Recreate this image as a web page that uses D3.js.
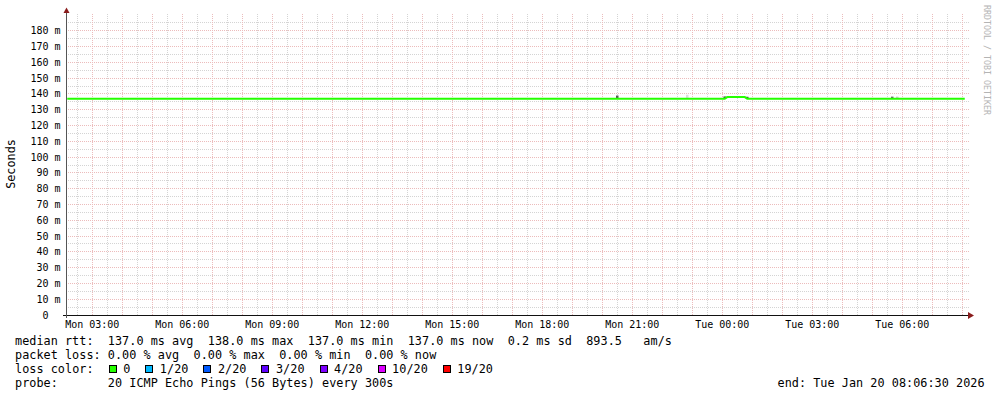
<!DOCTYPE html>
<html>
<head>
<meta charset="utf-8">
<script src="https://cdn.jsdelivr.net/npm/d3@7/dist/d3.min.js"></script>
<style>
	body { margin: 0; background: #ffffff; }
	text { font-family: "DejaVu Sans Mono", "Liberation Mono", "Noto Sans Mono", monospace; white-space: pre; }
</style>
</head>
<body>
<svg id="canvas" width="997" height="397"></svg>
<script>
// time range of the graph (UTC)
var rangeStart = "2026-01-19T02:06:30";
var rangeEnd = "2026-01-20T08:06:30";

// median rtt series (ms), 5 min steps, only the points where it changes
var medianTimes = ["2026-01-19T02:10:00", "2026-01-20T00:05:00", "2026-01-20T00:10:00",
	"2026-01-20T00:45:00", "2026-01-20T00:50:00", "2026-01-20T08:05:00"];
var medianValues = [137.0, 137.0, 138.0, 138.0, 137.0, 137.0];

// the few smoke samples that show above the median line
var smokeTimes = ["2026-01-19T20:30:00", "2026-01-19T22:50:00", "2026-01-20T00:05:00",
	"2026-01-20T00:50:00", "2026-01-20T05:40:00", "2026-01-20T05:50:00"];
var smokeTops = [139.0, 139.5, 138.4, 138.2, 138.3, 138.3];
var smokeShades = ["#555555", "#dddddd", "#444444", "#444444", "#666666", "#cccccc"];

// y axis
var yMajor = [10, 20, 30, 40, 50, 60, 70, 80, 90, 100, 110, 120, 130, 140, 150, 160, 170, 180];
var yMinor = [5, 15, 25, 35, 45, 55, 65, 75, 85, 95, 105, 115, 125, 135, 145, 155, 165, 175, 185];
var yLabels = ["0", "10 m", "20 m", "30 m", "40 m", "50 m", "60 m", "70 m", "80 m", "90 m",
	"100 m", "110 m", "120 m", "130 m", "140 m", "150 m", "160 m", "170 m", "180 m"];

// legend
var rttNames = ["avg", "max", "min", "now"];
var rttValues = [137.0, 138.0, 137.0, 137.0];
var rttSd = 0.2;
var rttAms = 893.5;
var lossValues = [0.00, 0.00, 0.00, 0.00];
var lossNames = ["0", "1/20", "2/20", "3/20", "4/20", "10/20", "19/20"];
var lossColors = ["#26ff00", "#00b8ff", "#0059ff", "#5e00ff", "#7e00ff", "#dd00ff", "#ff0000"];
var probeText = "20 ICMP Echo Pings (56 Bytes) every 300s";
var endText = "Tue Jan 20 08:06:30 2026";

var parseT = d3.utcParse("%Y-%m-%dT%H:%M:%S");
var charW = 7.14;

function draw(){
	var svg = d3.select("#canvas");
	var x = d3.scaleUtc()
		.domain([parseT(rangeStart), parseT(rangeEnd)])
		.range([65.5, 965.5]);
	var y = d3.scaleLinear().domain([0, 190]).range([315, 15]);
	var crisp = function(v){ return Math.floor(v) + 0.5; };

	svg.append("rect").attr("width", 997).attr("height", 397).attr("fill", "#ffffff");

	// grid: minor gray, major red
	var halfHours = x.ticks(d3.utcMinute.every(30)).filter(function(d){ return d.getUTCMinutes() === 30; });
	var hours = x.ticks(d3.utcHour.every(1));
	var grid = svg.append("g").attr("stroke-dasharray", "1,1").attr("stroke-width", 1).attr("fill", "none");

	grid.selectAll("line.vmin").data(halfHours).enter().append("line")
		.attr("x1", function(d){ return crisp(x(d)); })
		.attr("x2", function(d){ return crisp(x(d)); })
		.attr("y1", 14).attr("y2", 315)
		.attr("stroke", "#d4d4d4");
	grid.selectAll("line.hmin").data(yMinor).enter().append("line")
		.attr("y1", function(d){ return crisp(y(d)); })
		.attr("y2", function(d){ return crisp(y(d)); })
		.attr("x1", 66).attr("x2", 969)
		.attr("stroke", "#d4d4d4");
	grid.selectAll("line.vmaj").data(hours).enter().append("line")
		.attr("x1", function(d){ return crisp(x(d)); })
		.attr("x2", function(d){ return crisp(x(d)); })
		.attr("y1", 14).attr("y2", 315)
		.attr("stroke", "#ecbcbc");
	grid.selectAll("line.hmaj").data(yMajor).enter().append("line")
		.attr("y1", function(d){ return crisp(y(d)); })
		.attr("y2", function(d){ return crisp(y(d)); })
		.attr("x1", 66).attr("x2", 969)
		.attr("stroke", "#ecbcbc");

	// smoke
	svg.selectAll("rect.smoke")
		.data(smokeTimes)
		.enter()
		.append("rect")
		.attr("class", "smoke")
		.attr("x", function(d){ return x(parseT(d)) - 1.25; })
		.attr("width", 2.5)
		.attr("y", function(d, i){ return y(smokeTops[i]); })
		.attr("height", function(d, i){ return y(137) - y(smokeTops[i]); })
		.attr("fill", function(d, i){ return smokeShades[i]; });

	// median line
	var points = medianTimes.map(function(t, i){ return [parseT(t), medianValues[i]]; });
	var lineGenerator = d3.line()
		.x(function(d){ return x(d[0]); })
		.y(function(d){ return y(d[1]); });
	svg.append("path")
		.attr("d", lineGenerator(points))
		.attr("style", "stroke-width: 2; fill: none; stroke: " + lossColors[0] + ";");

	// axes
	svg.append("line").attr("x1", 63).attr("x2", 968).attr("y1", 315.5).attr("y2", 315.5)
		.attr("stroke", "#111111");
	svg.append("line").attr("x1", 66.5).attr("x2", 66.5).attr("y1", 12).attr("y2", 318)
		.attr("stroke", "#555555");
	svg.append("path").attr("d", "M66.5,7.5L63.5,13L69.5,13Z").attr("fill", "#8a1c1c");
	svg.append("path").attr("d", "M974,315.5L968,312L968,319Z").attr("fill", "#8a1c1c");

	// x labels
	var fmt = d3.utcFormat("%a %H:%M");
	svg.selectAll("text.xlab")
		.data(x.ticks(d3.utcHour.every(3)))
		.enter()
		.append("text")
		.attr("x", function(d){ return x(d); })
		.attr("y", 328)
		.attr("text-anchor", "middle")
		.attr("font-size", "10px")
		.attr("fill", "#000")
		.text(function(d){ return fmt(d); });

	// y labels
	svg.selectAll("text.ylab")
		.data(yLabels)
		.enter()
		.append("text")
		.attr("x", function(d){ return d === "0" ? 48.5 : 60.5; })
		.attr("y", function(d, i){ return y(i * 10) + 3.5; })
		.attr("text-anchor", "end")
		.attr("font-size", "10px")
		.attr("fill", "#000")
		.text(function(d){ return d; });

	svg.append("text")
		.attr("transform", "translate(15,164) rotate(-90)")
		.attr("text-anchor", "middle")
		.attr("font-size", "11.8px")
		.attr("fill", "#000")
		.text("Seconds");

	svg.append("text")
		.attr("transform", "translate(983.5,5) rotate(90)")
		.attr("font-size", "8.5px")
		.attr("fill", "#b4b4b4")
		.attr("textLength", 110)
		.attr("lengthAdjust", "spacingAndGlyphs")
		.text("RRDTOOL / TOBI OETIKER");

	// legend rows
	var row1 = "median rtt:  ";
	rttValues.forEach(function(v, i){ row1 += v.toFixed(1) + " ms " + rttNames[i] + "  "; });
	row1 += rttSd.toFixed(1) + " ms sd  " + rttAms.toFixed(1) + "   am/s";
	var row2 = "packet loss: ";
	lossValues.forEach(function(v, i){ row2 += v.toFixed(2) + " % " + rttNames[i] + (i < 3 ? "  " : ""); });
	var row4 = "probe:       " + probeText;
	var rows = [row1, row2, "loss color:", row4];

	svg.selectAll("text.legend")
		.data(rows)
		.enter()
		.append("text")
		.attr("x", 15)
		.attr("y", function(d, i){ return 344.8 + i * 14; })
		.attr("font-size", "11.8px")
		.attr("fill", "#000")
		.attr("textLength", function(d){ return d.length * charW; })
		.attr("lengthAdjust", "spacing")
		.text(function(d){ return d; });

	var bx = 108.7;
	lossNames.forEach(function(name, i){
		svg.append("rect")
			.attr("x", Math.round(bx) + 0.5).attr("y", 365.5)
			.attr("width", 7).attr("height", 7)
			.attr("fill", lossColors[i]).attr("stroke", "#000");
		svg.append("text")
			.attr("x", bx + 14.5)
			.attr("y", 372.8)
			.attr("font-size", "11.8px")
			.attr("fill", "#000")
			.attr("textLength", name.length * charW)
			.attr("lengthAdjust", "spacing")
			.text(name);
		bx = bx + 14.5 + name.length * charW + 15;
	});

	var endLine = "end: " + endText;
	svg.append("text")
		.attr("x", 777.5)
		.attr("y", 386.8)
		.attr("font-size", "11.8px")
		.attr("fill", "#000")
		.attr("textLength", endLine.length * charW)
		.attr("lengthAdjust", "spacing")
		.text(endLine);
}

draw();
</script>
</body>
</html>
